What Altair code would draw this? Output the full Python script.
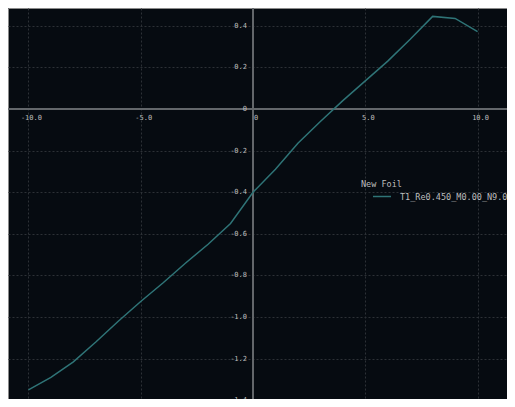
import altair as alt
import pandas as pd

# ---- data ----
alpha = [-10, -9, -8, -7, -6, -5, -4, -3, -2, -1, 0, 1, 2, 3, 4, 5, 6, 7, 8, 9, 10]
cl = [-1.35, -1.29, -1.215, -1.12, -1.02, -0.925, -0.835, -0.74, -0.65, -0.55,
      -0.40, -0.29, -0.165, -0.06, 0.04, 0.135, 0.23, 0.335, 0.445, 0.435, 0.372]
series_name = "T1_Re0.450_M0.00_N9.0"
legend_title = "New Foil"

x_ticks = [-10, -5, 0, 5, 10]
x_tick_labels = ["-10.0", "-5.0", "0", "5.0", "10.0"]
y_ticks = [0.4, 0.2, 0.0, -0.2, -0.4, -0.6, -0.8, -1.0, -1.2, -1.4]
y_tick_labels = ["0.4", "0.2", "0", "-0.2", "-0.4", "-0.6", "-0.8", "-1.0", "-1.2", "-1.4"]

# ---- styling ----
BG = "#060b11"
LINE = "#2f7477"
GRID = "#2c3136"
ZERO = "#63676b"
TXT = "#bdbdbd"
FONT = "DejaVu Sans Mono"

xscale = alt.Scale(domain=[-10.91, 11.31], nice=False, zero=False)
yscale = alt.Scale(domain=[-1.3936, 0.4853], nice=False, zero=False)

xaxis = alt.Axis(values=x_ticks, grid=True, gridColor=GRID, gridDash=[2, 2], gridWidth=1,
                 labels=False, ticks=False, domain=False, title=None)
yaxis = alt.Axis(values=y_ticks, grid=True, gridColor=GRID, gridDash=[2, 2], gridWidth=1,
                 labels=False, ticks=False, domain=False, title=None)

df_line = pd.DataFrame({"x": alpha, "y": cl, "series": [series_name] * len(alpha)})
df_xlab = pd.DataFrame({"x": x_ticks, "y": [0] * len(x_ticks), "label": x_tick_labels})
df_ylab = pd.DataFrame({"x": [0] * len(y_ticks), "y": y_ticks, "label": y_tick_labels})
df_zero = pd.DataFrame({"x": [0], "y": [0]})

X = alt.X("x:Q", scale=xscale, axis=xaxis)
Y = alt.Y("y:Q", scale=yscale, axis=yaxis)

line = alt.Chart(df_line).mark_line(strokeWidth=1.5).encode(
    x=X, y=Y,
    color=alt.Color("series:N", scale=alt.Scale(range=[LINE]),
                    legend=alt.Legend(title=legend_title, orient="none",
                                      legendX=353, legendY=172,
                                      titleFont=FONT, titleFontSize=8.5, titleColor=TXT,
                                      titleFontWeight="normal", titlePadding=-2,
                                      labelFont=FONT, labelFontSize=8.5, labelColor=TXT,
                                      labelLimit=1000, labelOffset=8,
                                      symbolType="stroke", symbolSize=324,
                                      symbolStrokeWidth=1.5, symbolOffset=11)),
)

zero_v = alt.Chart(df_zero).mark_rule(color=ZERO, strokeWidth=2).encode(x=X)
zero_h = alt.Chart(df_zero).mark_rule(color=ZERO, strokeWidth=2).encode(y=Y)

xlabels = alt.Chart(df_xlab).mark_text(align="center", baseline="middle", dx=3, dy=9,
                                       font=FONT, fontSize=7, color=TXT).encode(
    x=X, y=Y, text="label:N")
ylabels = alt.Chart(df_ylab).mark_text(align="right", baseline="middle", dx=-6,
                                       font=FONT, fontSize=7, color=TXT).encode(
    x=X, y=Y, text="label:N")

chart = alt.layer(zero_v, zero_h, line, xlabels, ylabels).properties(
    width=499, height=391, background=BG,
    autosize=alt.AutoSizeParams(type="none"), padding=0,
).configure_view(stroke="#8a8a8a", strokeWidth=1)

chart.save("out.html", embed_options={"renderer": "svg", "actions": False})
